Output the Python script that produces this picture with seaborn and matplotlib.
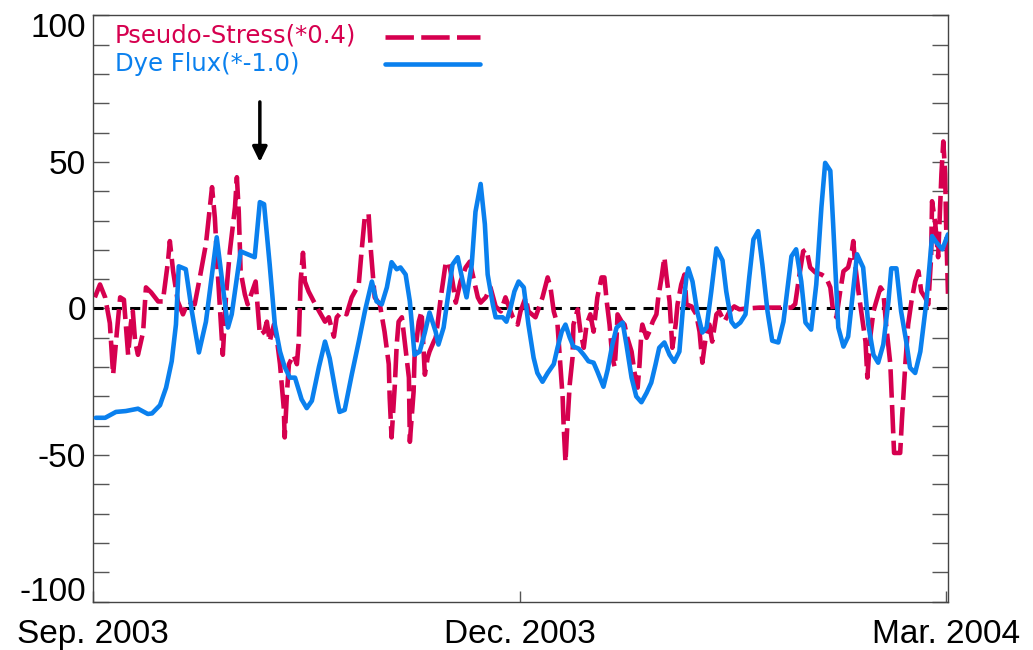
import matplotlib
matplotlib.use("Agg")
import matplotlib.pyplot as plt
import matplotlib.transforms as mtransforms
from matplotlib.ticker import MultipleLocator, FixedLocator
import numpy as np
import pandas as pd
import seaborn as sns

# Time axis: days since 1 Sep 2003
tick_days = [0, 91, 182]
tick_labels = ["Sep. 2003", "Dec. 2003", "Mar. 2004"]

# Pseudo-stress (scaled by 0.4)
stress_day = [0.4, 1.5, 2.6, 3.6, 4.3, 5.1, 5.8, 6.6, 7.5, 8.1, 8.5, 9.0, 9.6, 10.7,
              11.3, 12.4, 13.9, 14.9, 16.0, 16.4, 17.1, 18.1, 19.2, 20.3, 21.7, 22.8,
              24.1, 25.4, 26.0, 26.6, 27.3, 27.7, 28.4, 29.2, 30.3, 30.7, 31.1, 31.5,
              32.4, 33.0, 34.7, 35.6, 36.5, 37.1, 37.7, 38.6, 39.2, 39.9, 40.7, 40.9,
              41.4, 41.8, 42.8, 43.5, 43.9, 44.3, 44.8, 45.2, 46.0, 47.1, 48.4, 49.5,
              50.3, 51.4, 52.0, 53.1, 54.1, 55.2, 56.7, 57.3, 58.0, 58.8, 59.3, 60.1,
              61.2, 62.2, 63.1, 63.3, 63.7, 64.4, 64.8, 65.2, 65.9, 66.5, 67.4, 67.6,
              68.4, 68.6, 69.5, 70.1, 70.8, 71.4, 71.8, 72.7, 73.1, 73.5, 74.2, 75.2,
              75.9, 76.7, 77.4, 78.4, 79.5, 80.4, 81.0, 82.1, 82.7, 83.8, 84.8, 85.9,
              87.0, 88.0, 89.5, 90.6, 91.2, 92.3, 92.9, 94.4, 95.9, 97.0, 97.6, 98.3,
              99.1, 99.7, 100.2, 100.4, 100.8, 101.2, 101.7, 102.3, 102.5, 103.4, 104.0,
              104.7, 105.3, 106.1, 106.8, 107.6, 108.5, 109.1, 109.6, 110.2, 110.8,
              111.3, 111.7, 111.9, 112.8, 113.4, 114.0, 114.9, 115.5, 116.2, 116.6,
              117.0, 117.2, 118.1, 118.7, 119.4, 120.2, 120.6, 121.3, 121.9, 122.3,
              123.0, 123.6, 124.3, 124.7, 125.5, 126.2, 126.6, 127.7, 128.7, 129.4,
              130.0, 130.7, 131.5, 132.1, 133.0, 133.6, 134.7, 135.8, 136.8, 137.9,
              139.4, 142.2, 144.7, 149.0, 149.8, 150.5, 151.5, 152.2, 153.0, 154.1,
              155.4, 156.4, 157.3, 157.9, 158.6, 159.4, 160.1, 161.1, 161.8, 162.2,
              162.6, 163.3, 163.9, 164.8, 165.2, 165.8, 166.5, 167.1, 168.0, 168.6,
              169.2, 170.1, 170.5, 170.9, 172.2, 172.6, 173.3, 173.9, 174.6, 175.4,
              176.1, 176.7, 177.5, 178.2, 178.8, 179.0, 179.7, 180.3, 181.0, 181.4,
              181.8, 182.0, 182.4]
stress_val = [3.8, 8.2, 3.8, -5.0, -22.6, -8.0, 3.8, 3.0, -15.8, -5.0, -1.0, -11.3, -15.8,
              -8.0, 7.2, 5.5, 2.4, 2.4, 16.0, 23.0, 12.7, 2.4, -2.0, 2.4, 1.4, 10.6,
              22.0, 41.4, 31.0, 12.7, -5.5, -15.8, 4.8, 19.5, 34.6, 44.8, 33.0, 12.7,
              4.8, 1.4, 9.2, -9.0, -8.0, -4.5, -11.3, -5.5, -10.0, -19.0, -34.0, -44.0,
              -28.4, -19.0, -15.8, -19.0, -11.3, 9.2, 19.0, 9.2, 5.8, 2.4, -1.4, -4.5,
              -3.0, -9.6, -3.0, -1.0, -2.0, 3.8, 8.2, 19.5, 31.5, 32.2, 19.5, 3.8,
              1.4, -7.9, -19.0, -30.5, -44.0, -26.0, -12.3, -4.5, -3.0, -11.3, -23.6, -45.5,
              -28.4, -16.8, -4.5, -1.0, -22.6, -16.8, -14.7, -11.3, -10.0, -5.5, 3.8, 15.0,
              16.0, 9.2, 2.0, 9.2, 14.0, 16.0, 11.6, 3.8, 2.0, 3.8, 7.2, 0.7,
              -1.0, 3.8, -2.7, -5.5, -1.0, 3.8, -1.0, -3.0, 3.8, 10.6, 7.2, -1.0,
              -5.5, -19.0, -30.5, -39.7, -52.4, -39.7, -26.0, -16.8, -5.5, -0.3, -7.9,
              -13.4, -5.5, -2.0, -7.9, 3.8, 10.6, 10.6, 2.4, -5.5, -16.8,
              -20.0, -10.0, -2.0, -4.5, -5.5, -10.0, -14.7, -21.6, -27.0, -19.0,
              -7.9, -5.5, -10.0, -7.9, -4.5, -2.0, 3.8, 10.6, 17.5, 11.6,
              2.4, -13.4, -5.5, 1.4, 8.2, 11.6, 1.4, 0.7, -2.0, -7.9,
              -18.5, -10.0, -5.5, -11.3, -2.0, -1.0, -4.5, -1.0, 0.7, -0.3,
              0.0, 0.3, 0.3, 0.3, 1.5, 9.2, 19.5, 20.2, 14.0, 12.3,
              11.6, 10.6, 7.2, -1.0, -3.0, 5.8, 12.7, 14.0, 18.5, 23.0,
              15.0, 5.8, -1.0, -11.3, -23.6, -10.0, -1.0, 2.4, 7.2, 5.8,
              -5.5, -19.0, -34.0, -49.3, -49.3, -37.3, -19.0, -5.5, 2.4, 9.2,
              12.7, 5.8, 3.8, 1.4, 17.5, 36.6, 28.8, 17.5, 45.9, 57.0,
              45.9, 28.8, 5.0]

# Dye flux (scaled by -1.0)
flux_day = [0.6, 2.6, 4.9, 7.0, 9.6, 11.7, 12.6, 14.3, 15.6, 16.8, 17.7, 18.3, 19.8,
            21.1, 22.6, 24.1, 26.4, 28.8, 29.6, 30.9, 31.5, 33.0, 34.5, 35.6, 36.5,
            37.7, 38.8, 39.9, 40.9, 42.0, 43.1, 44.5, 45.6, 46.7, 48.2, 49.5, 50.5,
            52.0, 52.6, 53.7, 55.2, 56.7, 58.0, 59.5, 60.5, 61.6, 62.7, 63.7, 64.8,
            65.6, 66.7, 67.6, 68.6, 69.7, 70.8, 71.8, 73.1, 73.7, 74.8, 75.9, 76.7,
            77.8, 78.9, 79.7, 80.8, 81.6, 82.7, 83.6, 84.2, 85.3, 85.9, 87.4, 88.2,
            89.1, 89.9, 90.8, 91.9, 92.9, 94.0, 94.8, 95.9, 97.0, 98.3, 99.1, 100.0,
            100.8, 101.7, 102.5, 103.6, 104.7, 105.7, 106.8, 107.6, 108.9, 109.8,
            110.8, 111.7, 113.0, 113.8, 114.9, 115.9, 117.0, 118.1, 119.1, 120.0,
            120.8, 121.9, 123.0, 124.0, 125.1, 125.8, 126.6, 127.0, 127.9, 128.9,
            130.0, 130.9, 131.9, 133.0, 134.3, 135.1, 136.2, 137.0, 138.1, 139.2,
            140.0, 140.9, 141.9, 142.8, 143.9, 144.9, 146.2, 147.3, 149.0, 150.0,
            151.1, 152.0, 153.2, 154.3, 155.4, 156.2, 157.3, 157.9, 159.0, 160.1,
            161.1, 162.0, 163.0, 164.3, 165.4, 166.5, 167.5, 168.6, 169.7, 170.3,
            171.4, 172.4, 173.5, 174.3, 175.4, 176.5, 177.8, 179.0, 179.9, 181.2,
            182.4]
flux_val = [-37.3, -37.3, -35.3, -35.0, -34.2, -36.0, -35.8, -33.0, -27.0, -18.0, -5.5,
            14.4, 13.4, -1.0, -15.0, -4.5, 24.3, -6.5, -2.0, 12.7, 19.5, 18.5, 17.5,
            36.3, 35.6, 15.0, -5.5, -14.7, -20.0, -23.6, -23.6, -31.0, -34.0, -31.5,
            -20.0, -11.3, -17.0, -30.5, -35.3, -34.6, -22.6, -11.3, -1.0, 9.2, 2.4,
            1.4, 7.2, 15.8, 13.4, 14.0, 11.6, 2.4, -15.8, -14.7, -8.2, -1.4, -7.9,
            -12.3, -6.5, 5.8, 15.0, 17.5, 9.2, 3.8, 15.0, 33.0, 42.5, 28.8, 11.6,
            1.4, -3.0, -3.0, -4.5, 0.3, 5.8, 9.2, 7.2, -5.5, -16.8, -22.0, -25.0,
            -22.0, -19.0, -13.4, -7.9, -5.5, -9.9, -13.0, -13.7, -15.8, -18.0, -18.5,
            -21.5, -26.7, -20.9, -12.3, -6.5, -4.8, -12.3, -23.6, -30.0, -32.0,
            -28.8, -25.3, -19.2, -13.4, -11.6, -15.8, -18.2, -14.7, -1.0, 10.6,
            13.7, 9.2, -1.0, -8.2, -6.5, 5.8, 20.5, 16.4, 5.8, -4.5, -6.2, -4.8,
            -2.0, 10.6, 23.6, 26.4, 15.0, -1.0, -11.0, -11.6, -4.5, 17.8, 20.2,
            9.2, -4.8, -7.2, 8.2, 34.6, 49.7, 47.0, 28.8, -6.5, -13.0, -9.6, 3.8,
            18.5, 14.0, -5.5, -15.8, -18.5, -12.3, 2.4, 13.7, 13.7, -1.0, -11.3,
            -20.2, -22.0, -14.7, 2.4, 24.7, 22.6, 20.2, 25.3]

STRESS_COLOR = "#d6004f"
FLUX_COLOR = "#0a80ee"

sns.set_theme(style="white")
plt.rcParams["font.family"] = ["DejaVu Sans"]
plt.rcParams["axes.unicode_minus"] = False

fig = plt.figure(figsize=(10.33, 6.5), dpi=100)
ax = fig.add_axes([0.0900, 0.0746, 0.8277, 0.9016])

stress = pd.DataFrame({"day": stress_day, "value": stress_val})
flux = pd.DataFrame({"day": flux_day, "value": flux_val})

# zero reference line
ax.axhline(0, color="black", linewidth=2.2, dashes=(3.3, 2.7), zorder=1)

sns.lineplot(data=stress, x="day", y="value", sort=False, estimator=None,
             color=STRESS_COLOR, linewidth=3.3, ax=ax, zorder=2)
ax.lines[-1].set_dashes((6.2, 1.6))
ax.lines[-1].set_dash_capstyle("butt")
sns.lineplot(data=flux, x="day", y="value", sort=False, estimator=None,
             color=FLUX_COLOR, linewidth=3.3, ax=ax, zorder=3)
ax.lines[-1].set_solid_joinstyle("round")

# marker arrow
ax.annotate("", xy=(35.6, 50), xytext=(35.6, 70.5),
            arrowprops=dict(arrowstyle="-|>,head_width=0.22,head_length=0.45",
                            color="black", lw=2.5, mutation_scale=20,
                            shrinkA=0, shrinkB=0))

# key
ax.text(4.7, 93.0, "Pseudo-Stress(*0.4)", color=STRESS_COLOR, fontsize=17.5,
        va="center", ha="left")
ax.text(4.7, 83.3, "Dye Flux(*-1.0)", color=FLUX_COLOR, fontsize=17.5,
        va="center", ha="left")
ax.plot([62.2, 82.5], [92.8, 92.8], color=STRESS_COLOR, linewidth=3.3,
        dashes=(6.2, 1.6), dash_capstyle="butt")
ax.plot([62.2, 82.5], [83.6, 83.6], color=FLUX_COLOR, linewidth=3.3)

ax.set_xlim(0, 182.4)
ax.set_ylim(-100, 100)
ax.set_xlabel("")
ax.set_ylabel("")

ax.xaxis.set_major_locator(FixedLocator(tick_days))
ax.set_xticklabels(tick_labels)
ax.yaxis.set_major_locator(FixedLocator([-100, -50, 0, 50, 100]))
ax.yaxis.set_minor_locator(MultipleLocator(10))

ax.tick_params(axis="y", which="both", direction="in", length=11.5, width=1,
               color="#555555", left=True, right=True, pad=5)
ax.tick_params(axis="x", which="major", direction="in", length=8, width=1,
               color="#555555", bottom=True, top=False, pad=12.5)

tick_font = ["Liberation Sans", "DejaVu Sans"]
for lab in ax.get_xticklabels() + ax.get_yticklabels():
    lab.set_family(tick_font)
    lab.set_fontsize(24)
    lab.set_color("black")

# keep the end labels of the value axis inside the frame
fig.canvas.draw()
for tick in ax.yaxis.get_major_ticks():
    loc = tick.get_loc()
    if loc == 100:
        shift = mtransforms.ScaledTranslation(0, -7 / 72, fig.dpi_scale_trans)
    elif loc == -100:
        shift = mtransforms.ScaledTranslation(0, 9 / 72, fig.dpi_scale_trans)
    else:
        continue
    tick.label1.set_transform(tick.label1.get_transform() + shift)

for s in ax.spines.values():
    s.set_color("#444444")
    s.set_linewidth(1.0)

fig.savefig("out.png", dpi=100, facecolor="white")
